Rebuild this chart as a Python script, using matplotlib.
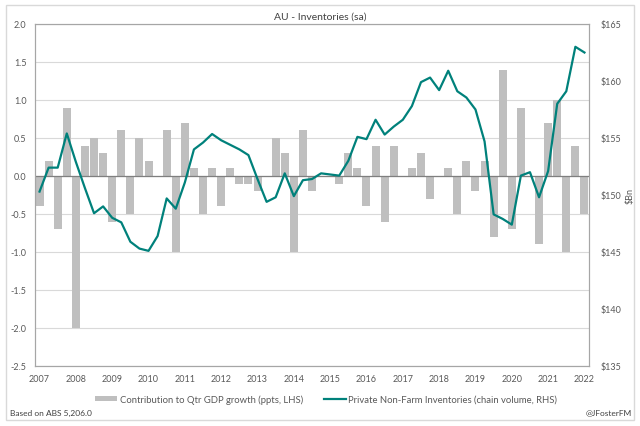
import numpy as np
import matplotlib
matplotlib.use("Agg")
import matplotlib.pyplot as plt
from matplotlib.patches import Rectangle

plt.rcParams['font.family'] = ['Lato', 'DejaVu Sans']

# quarterly, Mar-2007 .. Mar-2022
contrib = [-0.4, 0.2, -0.7, 0.9, -2.0, 0.4, 0.5, 0.3, -0.6, 0.6,
           -0.5, 0.5, 0.2, 0.0, 0.6, -1.0, 0.7, 0.1, -0.5, 0.1,
           -0.4, 0.1, -0.1, -0.1, -0.2, 0.0, 0.5, 0.3, -1.0, 0.6,
           -0.2, 0.0, 0.0, -0.1, 0.3, 0.1, -0.4, 0.4, -0.6, 0.4,
           0.0, 0.1, 0.3, -0.3, 0.0, 0.1, -0.5, 0.2, -0.2, 0.2,
           -0.8, 1.4, -0.7, 0.9, 0.0, -0.9, 0.7, 1.0, -1.0, 0.4,
           -0.5]
inventories = [150.3, 152.4, 152.4, 155.4, 152.9, 150.6, 148.4, 149.0, 148.0, 147.6,
               145.9, 145.3, 145.1, 146.4, 149.7, 148.8, 151.1, 154.0, 154.6, 155.35,
               154.8, 154.4, 154.0, 153.5, 151.4, 149.4, 149.8, 151.9, 149.9, 151.3,
               151.4, 151.9, 151.8, 151.7, 153.0, 155.1, 154.9, 156.6, 155.3, 156.0,
               156.6, 157.8, 159.9, 160.3, 159.2, 160.9, 159.1, 158.55, 157.5, 154.7,
               148.3, 147.9, 147.4, 151.7, 152.0, 149.8, 152.1, 158.0, 159.1, 163.0,
               162.5]
years = list(range(2007, 2023))

x = np.arange(len(contrib))
txt = '#595959'

fig = plt.figure(figsize=(6.4, 4.27), dpi=100)
fig.patches.append(Rectangle((6/640, 1-421/427), 628/640, 415/427, transform=fig.transFigure,
                             fill=False, edgecolor='#d9d9d9', lw=1))

ax = fig.add_axes([35/640, 1-367/427, 554/640, 342/427])
ax.bar(x, contrib, width=0.88, color='#bfbfbf', zorder=2,
       label='Contribution to Qtr GDP growth (ppts, LHS)')
ax.axhline(0, color='#7f7f7f', lw=0.9, zorder=3)
ax.set_xlim(-0.5, len(contrib)-0.5)
ax.set_ylim(-2.5, 2.0)
ax.set_yticks(np.arange(-2.5, 2.01, 0.5))
ax.set_yticklabels(['%.1f' % v for v in np.arange(-2.5, 2.01, 0.5)])
ax.set_xticks(x[::4])
ax.set_xticklabels([str(y) for y in years])
ax.grid(axis='y', color='#d9d9d9', lw=0.8, zorder=0)
ax.set_axisbelow(True)
ax.tick_params(length=0, labelsize=6.5, colors=txt, pad=6)
for s in ax.spines.values():
    s.set_color('#a6a6a6')
    s.set_linewidth(0.8)

ax2 = ax.twinx()
ax2.plot(x, inventories, color='#00817b', lw=1.6, zorder=4,
         label='Private Non-Farm Inventories (chain volume, RHS)')
ax2.set_ylim(135, 165)
ax2.set_yticks(range(135, 166, 5))
ax2.set_yticklabels(['$%d' % v for v in range(135, 166, 5)])
ax2.tick_params(length=0, labelsize=6.5, colors=txt, pad=8)
ax2.set_ylabel('$Bn', fontsize=6.5, color=txt, labelpad=3)
for s in ax2.spines.values():
    s.set_color('#a6a6a6')
    s.set_linewidth(0.8)

fig.text(320/640, 1-17/427, 'AU - Inventories (sa)', ha='center', va='center',
         fontsize=7.5, color='#404040')

h1, l1 = ax.get_legend_handles_labels()
h2, l2 = ax2.get_legend_handles_labels()
fig.legend(h1 + h2, l1 + l2, loc='center', bbox_to_anchor=(0.51, 1-400/427), ncol=2,
           frameon=False, fontsize=6.8, labelcolor=txt, handlelength=2.3,
           handleheight=0.5, columnspacing=2.2, handletextpad=0.3)

fig.text(10/640, 1-413/427, 'Based on ABS 5,206.0', ha='left', va='center',
         fontsize=6, color='#404040')
fig.text(632/640, 1-413/427, '@JFosterFM', ha='right', va='center',
         fontsize=6, color='#404040')

fig.savefig('out.png', dpi=100)
